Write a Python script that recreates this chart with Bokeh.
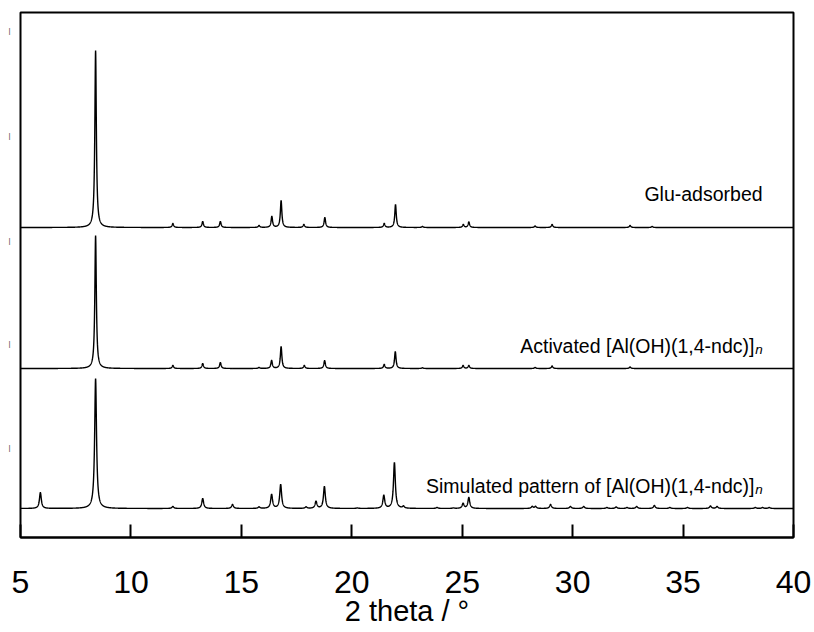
import numpy as np
from bokeh.plotting import figure
from bokeh.models import Range1d, FixedTicker, Label
from bokeh.embed import file_html
from bokeh.resources import INLINE

# ---- data (2 theta in degrees, intensity in a.u.) ----
sim_pos = [5.9, 8.4, 11.9, 13.25, 14.6, 15.8, 16.37, 16.78, 17.93, 18.38, 18.76,
           20.25, 21.45, 21.93, 22.34, 23.86, 24.6, 25.04, 25.3, 28.17, 28.32,
           29.0, 29.9, 30.5, 31.55, 31.97, 32.46, 32.9, 33.7, 34.4, 35.2, 36.24,
           36.54, 38.27, 38.6, 38.9]
sim_h = [16, 130, 2, 10, 4, 1.5, 14, 24, 1.5, 7, 22,
         0.5, 13, 46, 2, 1, 0.5, 5, 11, 2, 2,
         4, 2, 2, 1, 1.5, 1, 2, 3, 1, 1, 2.5,
         2, 1, 1, 1]

act_pos = [8.4, 11.9, 13.25, 14.05, 15.8, 16.37, 16.8, 17.85, 18.77, 21.47,
           21.97, 23.2, 25.04, 25.3, 28.3, 29.07, 32.6]
act_h = [133, 3, 5, 6, 1, 8, 22, 3, 8, 4,
         17, 0.7, 3, 3, 1, 2.5, 1.5]

glu_pos = [8.4, 11.9, 13.25, 14.05, 15.8, 16.38, 16.8, 17.83, 18.78, 21.47,
           21.98, 23.2, 25.05, 25.3, 28.3, 29.07, 32.6, 33.6]
glu_h = [177, 4, 6, 6, 2, 11, 27, 3, 10, 4,
         23, 1, 3, 5.5, 1.5, 3, 2, 1]

offsets = [29, 169, 310]          # vertical stacking offsets (a.u.)
labels = ["Simulated pattern of [Al(OH)(1,4-ndc)]", "Activated [Al(OH)(1,4-ndc)]", "Glu-adsorbed"]
x_ticks = [5, 10, 15, 20, 25, 30, 35, 40]
y_marks = [90, 194, 297, 402, 507]   # faint marks at the left edge of the reference

# ---- build profiles from the peak lists ----
x = np.arange(5.0, 40.0001, 0.005)

def profile(pos, h, hw):
    y = np.zeros_like(x)
    for p0, a in zip(pos, h):
        y += a / (1.0 + ((x - p0) / hw) ** 2)
    return y

y_sim = profile(sim_pos, sim_h, 0.05) + offsets[0]
y_act = profile(act_pos, act_h, 0.04) + offsets[1]
y_glu = profile(glu_pos, glu_h, 0.04) + offsets[2]

p = figure(frame_width=773, frame_height=525, x_range=Range1d(5, 40), y_range=Range1d(0, 525),
           output_backend="svg", toolbar_location=None,
           min_border_left=20, min_border_right=21, min_border_top=12, min_border_bottom=95)
p.grid.visible = False
p.background_fill_color = "white"
p.border_fill_color = "white"
p.outline_line_color = "black"
p.outline_line_width = 2

for yy in (y_sim, y_act, y_glu):
    p.line(x, yy, line_color="black", line_width=1.4)

TICKFONT = "'Liberation Sans Narrow', 'Arial Narrow', 'Liberation Sans', Arial"
ax = p.xaxis[0]
ax.ticker = FixedTicker(ticks=x_ticks)
ax.minor_tick_line_color = None
ax.major_tick_in = 13
ax.major_tick_out = 0
ax.major_tick_line_width = 2
ax.major_tick_line_color = "black"
ax.axis_line_width = 2
ax.major_label_text_font = TICKFONT
ax.major_label_text_font_size = "32px"
ax.major_label_text_color = "black"
ax.major_label_standoff = 33
ax.axis_label = "2 theta / °"
ax.axis_label_text_font = TICKFONT
ax.axis_label_text_font_size = "29px"
ax.axis_label_text_font_style = "normal"
ax.axis_label_text_color = "black"
ax.axis_label_standoff = -1

# left axis: only the small "|" marks at the far left of the reference
yax = p.yaxis[0]
yax.ticker = FixedTicker(ticks=y_marks)
yax.major_label_overrides = {v: "|" for v in y_marks}
yax.axis_line_color = None
yax.major_tick_line_color = None
yax.minor_tick_line_color = None
yax.major_tick_out = 0
yax.major_tick_in = 0
yax.major_label_standoff = 10
yax.major_label_text_font_size = "8px"
yax.major_label_text_color = "#444444"
yax.major_label_orientation = "horizontal"

FONT = "'Liberation Sans', Arial"
# pattern labels
p.add_layout(Label(x=38.6, y=344, text=labels[2], text_align="right", text_baseline="alphabetic",
                   text_font=FONT, text_font_size="19.5px", text_color="black"))
for lab, yb in ((labels[1], 192), (labels[0], 52)):
    p.add_layout(Label(x=38.23, y=yb, text=lab, text_align="right", text_baseline="alphabetic",
                       text_font=FONT, text_font_size="19.5px", text_color="black"))
    p.add_layout(Label(x=38.27, y=yb - 4, text="n", text_align="left", text_baseline="alphabetic",
                       text_font=FONT, text_font_size="13.5px", text_font_style="italic",
                       text_color="black"))

open("out.html", "w").write(file_html(p, INLINE))
